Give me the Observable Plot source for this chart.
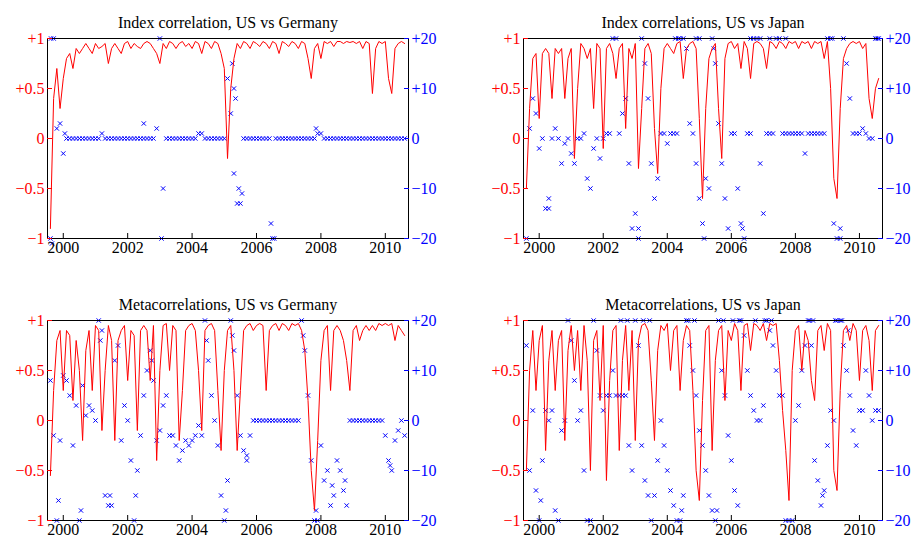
<!DOCTYPE html>
<html><head><meta charset="utf-8">
<script src="https://cdn.jsdelivr.net/npm/d3@7"></script>
<script src="https://cdn.jsdelivr.net/npm/@observablehq/plot@0.6"></script>
<style>
body{margin:0;background:#fff;}
#wrap{position:relative;width:922px;height:549px;}
#wrap svg{position:absolute;overflow:visible;}
</style></head><body><div id="wrap"></div>
<script>
const startYear = 1999.6, step = 0.1;
const titles = ["Index correlation, US vs Germany","Index correlations, US vs Japan","Metacorrelations, US vs Germany","Metacorrelations, US vs Japan"];
const yearTicks = [2000,2002,2004,2006,2008,2010];
const corrTicks = [-1,-0.5,0,0.5,1];
const corrLabels = ["\u22121","\u22120.5","0","+0.5","+1"];
const lagLabels = ["\u221220","\u221210","0","+10","+20"];

const corrUSDE = [-0.9,0.4,0.7,0.3,0.6,0.8,0.85,0.7,0.9,0.85,
0.9,0.95,0.9,0.85,0.95,0.9,0.92,0.95,0.75,0.9,
0.95,0.9,0.85,0.95,0.97,0.9,0.95,0.92,0.9,0.95,
0.97,0.95,0.9,0.85,0.75,0.95,0.9,0.97,0.95,0.9,
0.95,0.97,0.92,0.95,0.9,0.97,0.95,0.85,0.97,0.95,
0.9,0.97,0.95,0.85,0.7,-0.2,0.5,0.8,0.95,0.9,
0.97,0.95,0.9,0.97,0.95,0.92,0.97,0.95,0.9,0.97,
0.95,0.85,0.97,0.95,0.92,0.97,0.95,0.9,0.97,0.95,
0.8,0.6,0.9,0.95,0.8,0.97,0.95,0.97,0.92,0.97,
0.97,0.95,0.97,0.96,0.97,0.95,0.97,0.9,0.97,0.95,
0.45,0.9,0.97,0.95,0.97,0.6,0.45,0.9,0.95,0.97,0.95];
const lagUSDE = [-20,20,2,3,-3,0,0,0,0,0,
0,0,0,0,0,0,1,0,0,0,
0,0,0,0,0,0,0,0,0,0,
0,0,0,2,20,-10,0,0,0,0,
0,0,0,0,0,0,1,1,0,0,
0,0,0,0,0,12,5,-7,-13,-13,
0,0,0,0,0,0,0,0,0,-20,
0,0,0,0,0,0,0,0,0,0,
0,0,0,1,1,0,0,0,0,0,
0,0,0,0,0,0,0,0,0,0,
0,0,0,0,0,0,0,0,0,0,0];
const extraUSDE = [[1999.65,-21],[1999.62,20],[2003.05,-20],[2005.25,15],[2005.35,8],[2005.3,10],[2005.45,-10],[2005.55,-11],[2006.45,-17],[2002.5,3],[2007.85,2],[2000.05,1],[2006.55,-20]];

const corrUSJP = [-0.5,0.3,0.8,0.85,0.2,0.85,0.9,0.85,0.4,0.9,
0.85,0.9,0.4,0.8,0.9,-0.2,0.5,0.95,0.9,0.8,
0.9,0.3,0.95,0.9,-0.1,0.9,0.95,0.85,0.6,0.9,
0.95,0.1,0.9,0.8,0.95,-0.3,0.3,0.9,0.95,0.85,
0.1,-0.35,0.5,0.9,0.95,0.9,0.85,0.95,0.97,0.6,
0.9,0.95,0.97,0.9,0.2,-0.6,0.3,0.8,0.9,0.95,
0.3,-0.2,0.8,0.95,0.97,0.9,0.95,0.7,0.97,0.9,
0.6,0.95,0.97,0.95,0.9,0.7,0.97,0.95,0.9,0.97,
0.95,0.9,0.97,0.95,0.97,0.9,0.97,0.95,0.97,0.9,
0.97,0.95,0.97,0.8,0.97,0.5,-0.4,-0.6,0.3,0.8,
0.9,0.95,0.97,0.95,0.97,0.9,0.95,0.4,0.2,0.5,0.6];
const lagUSJP = [-20,2,8,5,-2,0,-14,-14,0,2,
0,-5,-1,0,-3,-5,0,0,1,-8,
-10,-2,0,-4,0,1,1,20,20,1,
5,8,-5,-18,-15,-20,20,15,8,-5,
-12,-8,1,1,-1,1,1,1,20,20,
18,3,1,-5,-12,-17,-8,-10,20,15,
3,-5,-12,-18,1,1,-10,-17,-20,1,
1,20,20,-5,-15,1,1,1,20,20,
1,1,1,1,1,1,1,-3,1,1,
1,1,1,1,20,20,-17,-20,-20,20,
15,8,1,1,1,2,1,0,0,20,20];
const extraUSJP = [[2004.25,20],[2004.35,20],[2004.9,20],[2005.0,20],[2005.45,18],[2006.6,20],[2006.9,20],[2007.2,20],[2007.7,20],[2009.15,20],[2009.4,-18],[2010.55,20],[2000.3,-12],[2003.1,-18],[2005.15,-20],[2006.35,-18]];

const corrMetaDE = [-0.55,0.3,0.8,0.9,0.3,0.9,0.85,0.2,0.8,0.5,
-0.2,0.7,0.9,0.3,0.95,0.9,-0.1,0.5,0.95,0.8,
-0.2,0.8,0.9,0.95,0.4,0.9,0.85,-0.1,0.9,0.95,
0.9,0.4,0.95,-0.4,0.5,0.95,0.97,0.5,0.95,0.9,
-0.2,0.3,0.9,0.95,0.97,0.9,0.5,-0.1,0.9,0.95,
0.97,0.9,0.3,-0.3,0.5,0.9,0.95,0.5,-0.3,0.3,
0.9,0.95,0.97,0.9,0.95,0.97,0.95,0.3,0.9,0.95,
0.97,0.9,0.97,0.95,0.9,0.97,0.95,0.97,0.9,0.7,
0.2,-0.5,-0.9,-0.2,0.6,0.9,0.95,0.3,0.9,0.95,
0.9,0.8,0.6,0.3,0.9,0.95,0.8,0.9,0.95,0.9,
0.95,0.9,0.97,0.95,0.97,0.95,0.97,0.8,0.95,0.9,0.85];
const lagMetaDE = [8,-3,-20,-4,9,8,5,-5,3,-20,
7,1,3,2,0,20,18,-15,-17,-17,
12,15,-4,3,0,-8,-20,-10,-3,5,
10,14,8,-4,-2,3,5,-3,-3,-5,
-8,-6,-4,-5,-4,-3,-1,-3,20,12,
5,0,-5,-15,-20,-12,20,14,5,-3,
-6,-8,-3,0,0,0,0,0,0,0,
0,0,0,0,0,0,0,0,20,14,
5,-8,-20,-20,-5,-12,-10,-17,-15,-8,
-10,-14,-17,0,0,0,0,0,0,0,
0,0,0,0,-3,-8,-10,-4,-2,0,-3];
const extraMetaDE = [[1999.85,-16],[2000.55,-18],[2001.15,16],[2001.45,-15],[2002.25,-15],[2002.75,12],[2004.45,16],[2005.05,-18],[2005.25,17],[2005.7,-7],[2007.45,17],[2007.85,-18],[2008.35,-13],[2008.75,-12],[2010.15,-9]];

const corrMetaJP = [-0.5,0.5,0.9,0.3,0.8,0.95,-0.3,0.6,0.9,0.3,
0.8,0.9,-0.2,0.7,0.95,0.5,0.9,0.3,0.95,0.6,
-0.5,0.8,0.9,0.2,0.95,-0.6,0.4,0.9,0.95,-0.3,
0.6,0.95,0.3,0.9,-0.2,0.8,0.95,0.97,0.9,0.4,
-0.2,0.7,0.95,0.9,0.97,0.5,0.9,0.95,0.3,0.8,
0.95,0.9,0.3,-0.5,-0.8,0.2,0.9,0.95,-0.3,0.6,
0.9,0.95,0.2,0.9,0.8,0.97,0.9,0.3,0.95,0.97,
0.7,0.97,0.95,0.9,0.97,0.8,0.97,0.95,0.97,0.6,
0.1,-0.3,-0.8,0.5,0.9,0.95,0.5,0.9,0.8,0.4,
0.2,0.9,0.95,0.7,0.97,0.9,-0.5,-0.7,0.3,0.9,
0.95,0.8,0.97,0.9,0.4,0.9,0.95,0.8,0.3,0.9,0.95];
const lagMetaJP = [15,-10,2,-14,-20,-8,2,0,2,-18,
-20,-2,0,20,16,8,0,2,-10,-20,
-20,20,14,5,2,5,5,10,5,5,
5,5,-5,-10,20,15,-5,-12,-15,-20,
-15,-8,0,-5,-10,-14,-17,-20,-20,-15,
20,15,10,5,-2,-5,-10,-15,-18,-20,
20,10,5,-3,-8,-14,-17,20,17,10,
5,2,0,0,3,20,18,15,10,5,
5,-20,-20,-20,0,3,10,15,20,15,
-8,-12,-17,-14,-5,2,0,20,20,15,
10,5,-2,-5,2,2,10,5,0,2,2];
const extraMetaJP = [[2002.55,20],[2002.75,20],[2003.25,20],[2003.45,20],[2004.65,20],[2004.85,20],[2005.75,20],[2006.05,20],[2006.25,20],[2006.75,20],[2007.05,20],[2007.25,20],[2008.45,20],[2008.55,20],[2009.25,20],[2009.45,20],[2009.65,18],[2000.05,-16],[2004.45,-18],[2005.55,-18],[2008.85,-15]];

const panels = [
  {corr:corrUSDE, lag:lagUSDE, extra:extraUSDE, left:0, top:0, ml:47, mr:53},
  {corr:corrUSJP, lag:lagUSJP, extra:extraUSJP, left:461, top:0, ml:62, mr:40},
  {corr:corrMetaDE, lag:lagMetaDE, extra:extraMetaDE, left:0, top:282, ml:47, mr:53},
  {corr:corrMetaJP, lag:lagMetaJP, extra:extraMetaJP, left:461, top:282, ml:62, mr:40}
];
const wrap = document.getElementById("wrap");
panels.forEach((p,k)=>{
  const line = p.corr.map((v,i)=>({x:startYear+step*i, y:v}));
  const pts = p.lag.map((v,i)=>({x:startYear+step*i, y:v/20})).concat(p.extra.map(([x,v])=>({x, y:v/20})));
  const chart = Plot.plot({
    width:461, height:270, marginLeft:p.ml, marginRight:p.mr, marginTop:38, marginBottom:32,
    style:{fontFamily:"'Liberation Serif', serif", fontSize:"16px", background:"transparent"},
    x:{domain:[1999.51,2010.72]},
    y:{domain:[-1,1]},
    marks:[
      Plot.dot(pts,{x:"x", y:"y", symbol:"times", r:2.1, stroke:"#0000ff", strokeWidth:1}),
      Plot.line(line,{x:"x", y:"y", stroke:"#ff0000", strokeWidth:1}),
      Plot.frame({stroke:"#000"}),
      Plot.axisX({ticks:yearTicks, tickFormat:d=>String(d), tickSize:-5, tickPadding:8, fontSize:16, color:"#000", label:null}),
      Plot.axisY({anchor:"left", ticks:corrTicks, tickFormat:(d,i)=>corrLabels[i], tickSize:-5, tickPadding:8, color:"#ff0000", fontSize:16, label:null}),
      Plot.axisY({anchor:"right", ticks:corrTicks, tickFormat:(d,i)=>lagLabels[i], tickSize:-5, tickPadding:8, color:"#0000ff", fontSize:16, label:null}),
      Plot.text([titles[k]],{frameAnchor:"top", dy:-22, fontSize:16, fill:"#000"})
    ]
  });
  chart.style.left = p.left+"px"; chart.style.top = p.top+"px";
  wrap.appendChild(chart);
});
</script></body></html>
